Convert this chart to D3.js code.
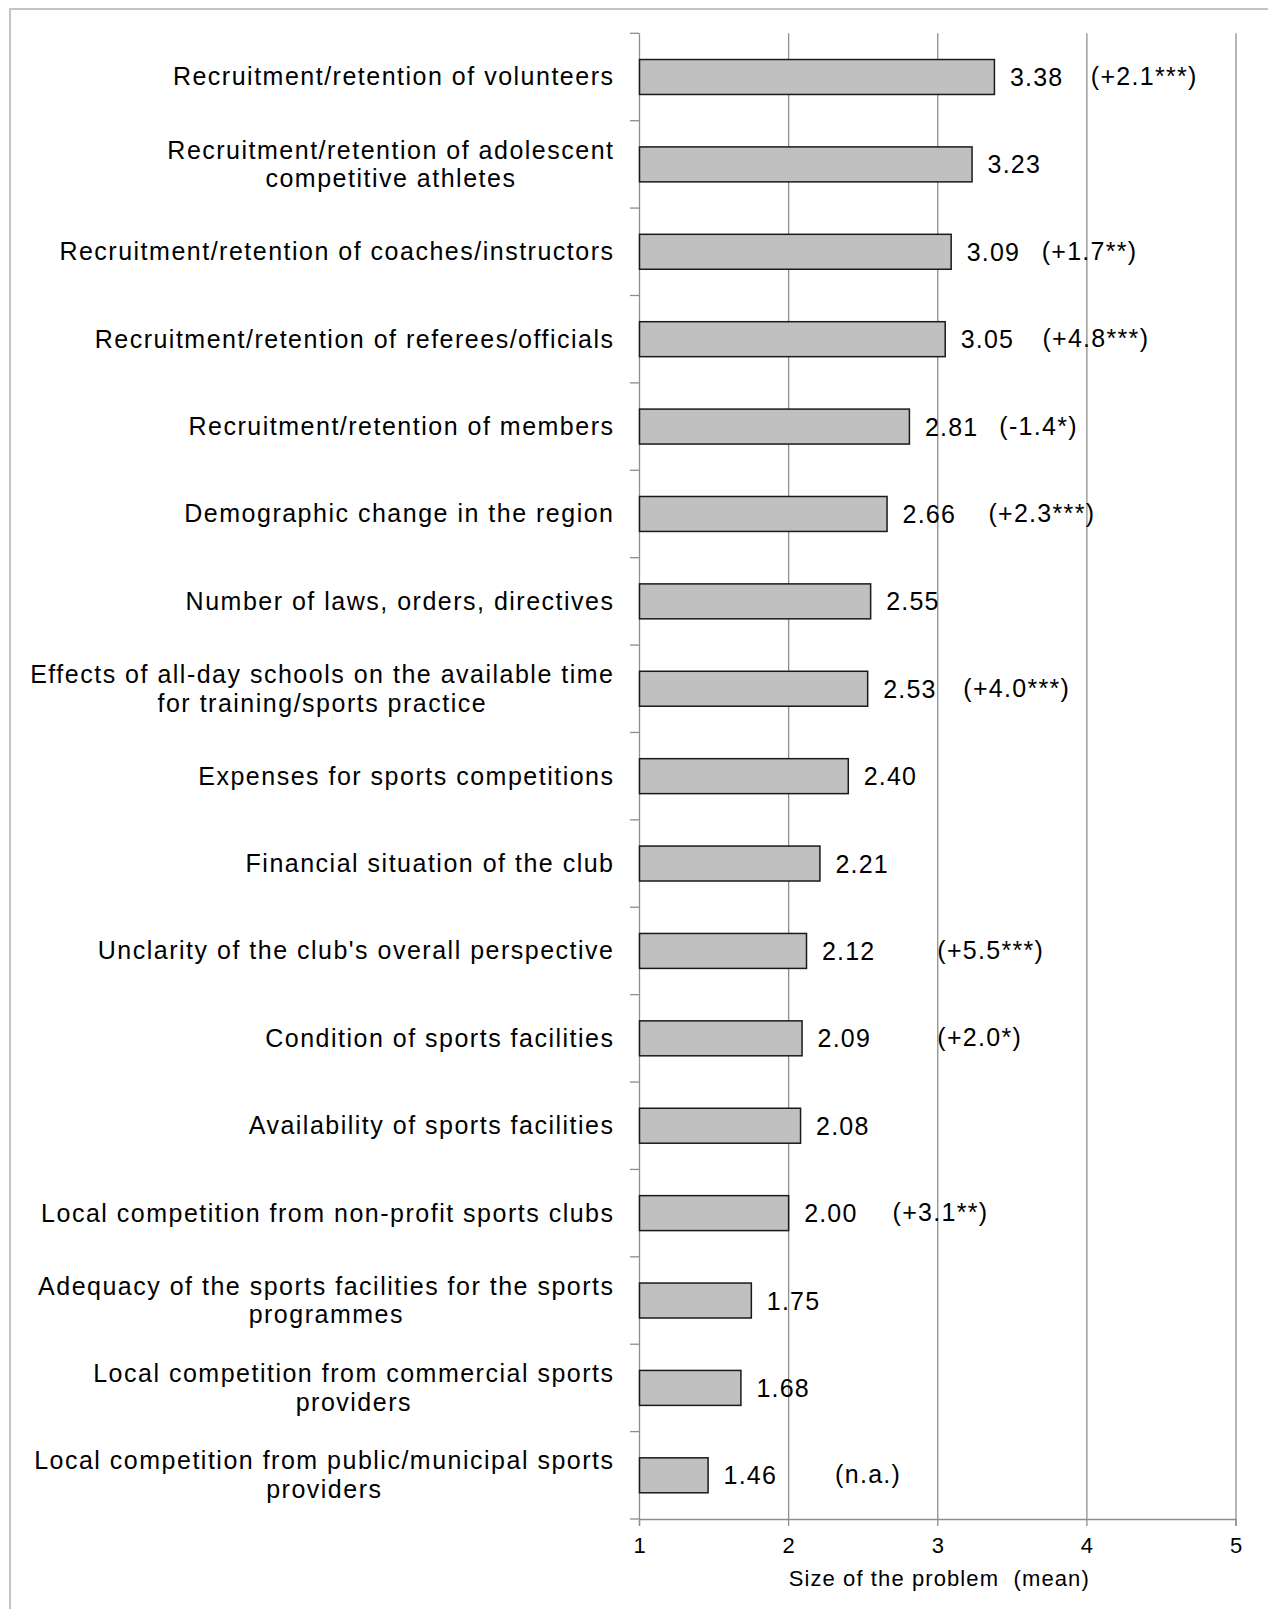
<!DOCTYPE html>
<html>
<head>
<meta charset="utf-8">
<script src="https://cdn.jsdelivr.net/npm/d3@7"></script>
<style>
  html, body { margin: 0; padding: 0; background: #fff; }
  svg { display: block; }
  text { font-family: "Liberation Sans", Arial, sans-serif; fill: #000; }
</style>
</head>
<body>
<svg id="chart" width="1268" height="1609"></svg>
<script>
const categories = [
  "Recruitment/retention of volunteers",
  "Recruitment/retention of adolescent\ncompetitive athletes",
  "Recruitment/retention of coaches/instructors",
  "Recruitment/retention of referees/officials",
  "Recruitment/retention of members",
  "Demographic change in the region",
  "Number of laws, orders, directives",
  "Effects of all-day schools on the available time\nfor training/sports practice",
  "Expenses for sports competitions",
  "Financial situation of the club",
  "Unclarity of the club's overall perspective",
  "Condition of sports facilities",
  "Availability of sports facilities",
  "Local competition from non-profit sports clubs",
  "Adequacy of the sports facilities for the sports\nprogrammes",
  "Local competition from commercial sports\nproviders",
  "Local competition from public/municipal sports\nproviders"
];
const means = [3.38, 3.23, 3.09, 3.05, 2.81, 2.66, 2.55, 2.53, 2.40, 2.21, 2.12, 2.09, 2.08, 2.00, 1.75, 1.68, 1.46];
const changes = ["(+2.1***)", "", "(+1.7**)", "(+4.8***)", "(-1.4*)", "(+2.3***)", "", "(+4.0***)", "", "", "(+5.5***)", "(+2.0*)", "", "(+3.1**)", "", "", "(n.a.)"];
// where each change note starts, in axis units
const changeAt = [4.03, null, 3.70, 3.705, 3.416, 3.343, null, 3.175, null, null, 3.0, 3.0, null, 2.70, null, null, 2.315];
const xTicks = [1, 2, 3, 4, 5];
const xTitle = "Size of the problem  (mean)";

const svg = d3.select("#chart");

// frame
svg.append("rect")
  .attr("x", 10).attr("y", 9).attr("width", 1400).attr("height", 1800)
  .attr("fill", "none").attr("stroke", "#c4c4c4").attr("stroke-width", 2);

const plotTop = 33.3, plotBottom = 1519;
const x = d3.scaleLinear().domain([1, 5]).range([639, 1235.5]);
const y = d3.scaleBand().domain(d3.range(categories.length))
  .range([plotTop, plotBottom]).paddingInner(0.6).paddingOuter(0.3);
const step = y.step();
const center = i => y(i) + y.bandwidth() / 2;

// gridlines
svg.append("g").selectAll("line").data(xTicks.filter(d => d > 1)).join("line")
  .attr("x1", d => x(d) + 0.5).attr("x2", d => x(d) + 0.5)
  .attr("y1", plotTop).attr("y2", plotBottom)
  .attr("stroke", "#8e8e8e").attr("stroke-width", 1.3);

// x axis
const xAxis = svg.append("g").attr("transform", `translate(0,${plotBottom})`)
  .call(d3.axisBottom(x).tickValues(xTicks).tickSize(7).tickPadding(11).tickFormat(d3.format("d")));
xAxis.select(".domain").attr("stroke", "#8e8e8e").attr("stroke-width", 1.3);
xAxis.selectAll(".tick line").attr("stroke", "#8e8e8e").attr("stroke-width", 1.3);
xAxis.selectAll(".tick text")
  .attr("font-size", 22).attr("fill", "#000")
  .style("font-family", '"Liberation Sans", Arial, sans-serif');

// y axis (category ticks at band boundaries)
const yAxisG = svg.append("g");
yAxisG.append("line")
  .attr("x1", x(1) + 0.5).attr("x2", x(1) + 0.5)
  .attr("y1", plotTop).attr("y2", plotBottom)
  .attr("stroke", "#8e8e8e").attr("stroke-width", 1.3);
yAxisG.selectAll("line.tk").data(d3.range(categories.length + 1)).join("line")
  .attr("class", "tk")
  .attr("x1", x(1) - 9).attr("x2", x(1))
  .attr("y1", i => plotTop + i * step).attr("y2", i => plotTop + i * step)
  .attr("stroke", "#8e8e8e").attr("stroke-width", 1.3);

// bars
svg.append("g").selectAll("rect").data(means).join("rect")
  .attr("x", x(1) + 0.5)
  .attr("y", (d, i) => y(i))
  .attr("width", d => x(d) - x(1))
  .attr("height", y.bandwidth())
  .attr("fill", "#c0c0c0")
  .attr("stroke", "#1a1a1a").attr("stroke-width", 1.5);

// value labels
svg.append("g").selectAll("text").data(means).join("text")
  .attr("x", d => x(d) + 16)
  .attr("y", (d, i) => center(i) + 9)
  .attr("font-size", 25)
  .style("letter-spacing", "1.2px")
  .text(d => d.toFixed(2));

// change notes
svg.append("g").selectAll("text").data(changes.map((c, i) => ({c, i})).filter(d => d.c))
  .join("text")
  .attr("x", d => x(changeAt[d.i]))
  .attr("y", d => center(d.i) + 8)
  .attr("font-size", 25)
  .style("letter-spacing", "1.3px")
  .text(d => d.c);

// category labels (right aligned block, lines centered)
const labelRight = 614.5;
const lineGap = 28.7;
categories.forEach((lab, i) => {
  const lines = lab.split("\n");
  const g = svg.append("g");
  const texts = lines.map((ln, k) => g.append("text")
    .attr("font-size", 25)
    .style("letter-spacing", "1.5px")
    .attr("y", center(i) + 8.5 + (k - (lines.length - 1) / 2) * lineGap)
    .text(ln));
  if (lines.length === 1) {
    texts[0].attr("x", labelRight).attr("text-anchor", "end");
  } else {
    const w = d3.max(texts, t => t.node().getComputedTextLength());
    texts.forEach(t => t.attr("x", labelRight - w / 2).attr("text-anchor", "middle"));
  }
});

// x title
svg.append("text")
  .attr("x", (x(2) + x(4)) / 2 + 2)
  .attr("y", 1586)
  .attr("text-anchor", "middle")
  .attr("font-size", 22)
  .style("letter-spacing", "1.1px")
  .style("white-space", "pre")
  .text(xTitle);
</script>
</body>
</html>
